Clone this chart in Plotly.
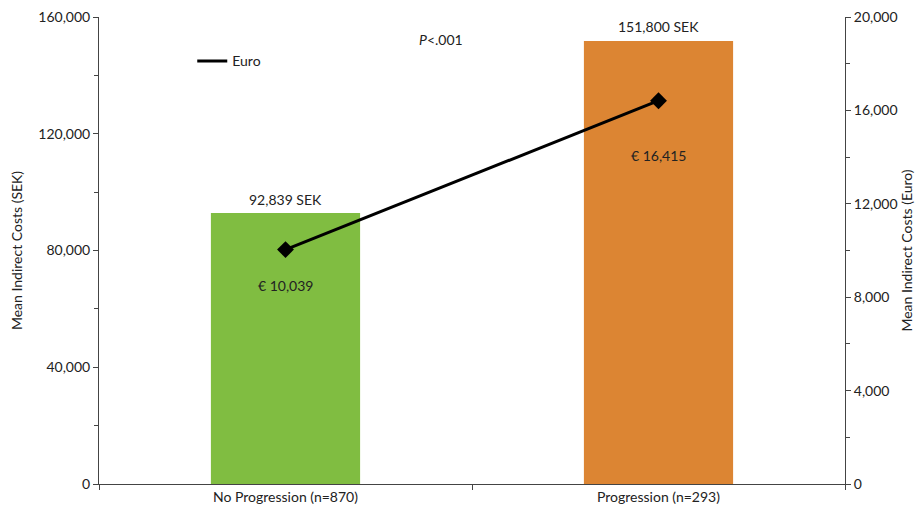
import plotly.graph_objects as go

categories = ["No Progression (n=870)", "Progression (n=293)"]
sek_values = [92839, 151800]
euro_values = [10039, 16415]
bar_colors = ["#80bd41", "#dc8533"]
left_ticks = [0, 40000, 80000, 120000, 160000]
right_ticks = [0, 4000, 8000, 12000, 16000, 20000]

FONT = "Lato"
FS = 14
euro_label_shifts = [-36, -55]

fig = go.Figure()
fig.add_trace(go.Bar(
    x=categories, y=sek_values, marker=dict(color=bar_colors, line=dict(width=0)),
    width=0.4, showlegend=False, yaxis="y",
))
fig.add_trace(go.Scatter(
    x=categories, y=euro_values, mode="lines+markers", name="Euro", showlegend=False,
    line=dict(color="black", width=3), marker=dict(symbol="diamond", size=13, color="black"),
    yaxis="y2",
))
# legend entry: line only
fig.add_trace(go.Scatter(
    x=[None], y=[None], mode="lines", name="Euro",
    line=dict(color="black", width=3), yaxis="y2",
))

annotations = []
for c, v in zip(categories, sek_values):
    annotations.append(dict(x=c, y=v, xref="x", yref="y", text=f"{v:,} SEK", showarrow=False,
                            yshift=14, font=dict(size=FS, color="#222", family=FONT)))
for c, v, s in zip(categories, euro_values, euro_label_shifts):
    annotations.append(dict(x=c, y=v, xref="x", yref="y2", text=f"€ {v:,}", showarrow=False,
                            yshift=s, font=dict(size=FS, color="#222", family=FONT)))
annotations.append(dict(x=0.5, y=1, xref="paper", yref="paper", xanchor="center", yanchor="middle",
                        text="<i>P</i>&lt;.001", showarrow=False, yshift=-22, xshift=-31,
                        font=dict(size=FS, color="#222", family=FONT)))

axis_common = dict(showline=True, linecolor="#444", linewidth=1, ticks="outside", ticklen=5,
                   tickcolor="#444", showgrid=False, zeroline=False, automargin=False,
                   tickfont=dict(size=FS, color="#222", family=FONT))

fig.update_layout(
    width=915, height=515,
    margin=dict(l=99, r=70, t=17, b=31),
    plot_bgcolor="white", paper_bgcolor="white",
    font=dict(family=FONT, size=FS, color="#222"),
    bargap=0.6,
    xaxis=dict(**axis_common, tickson="boundaries", type="category"),
    yaxis=dict(**axis_common, range=[0, 160000], tickvals=left_ticks,
               tickformat=",d",
               minor=dict(dtick=20000, ticks="outside", ticklen=4, tickcolor="#444", showgrid=False),
               title=dict(text="Mean Indirect Costs (SEK)", font=dict(size=FS, family=FONT), standoff=12)),
    yaxis2=dict(**axis_common, range=[0, 20000], tickvals=right_ticks, overlaying="y", side="right",
                tickformat=",d",
                minor=dict(dtick=2000, ticks="outside", ticklen=4, tickcolor="#444", showgrid=False),
                title=dict(text="Mean Indirect Costs (Euro)", font=dict(size=FS, family=FONT), standoff=10)),
    legend=dict(x=0.125, y=0.905, xanchor="left", yanchor="middle", bgcolor="rgba(0,0,0,0)",
                font=dict(size=FS, family=FONT)),
    annotations=annotations,
)

fig.write_html("out.html")
